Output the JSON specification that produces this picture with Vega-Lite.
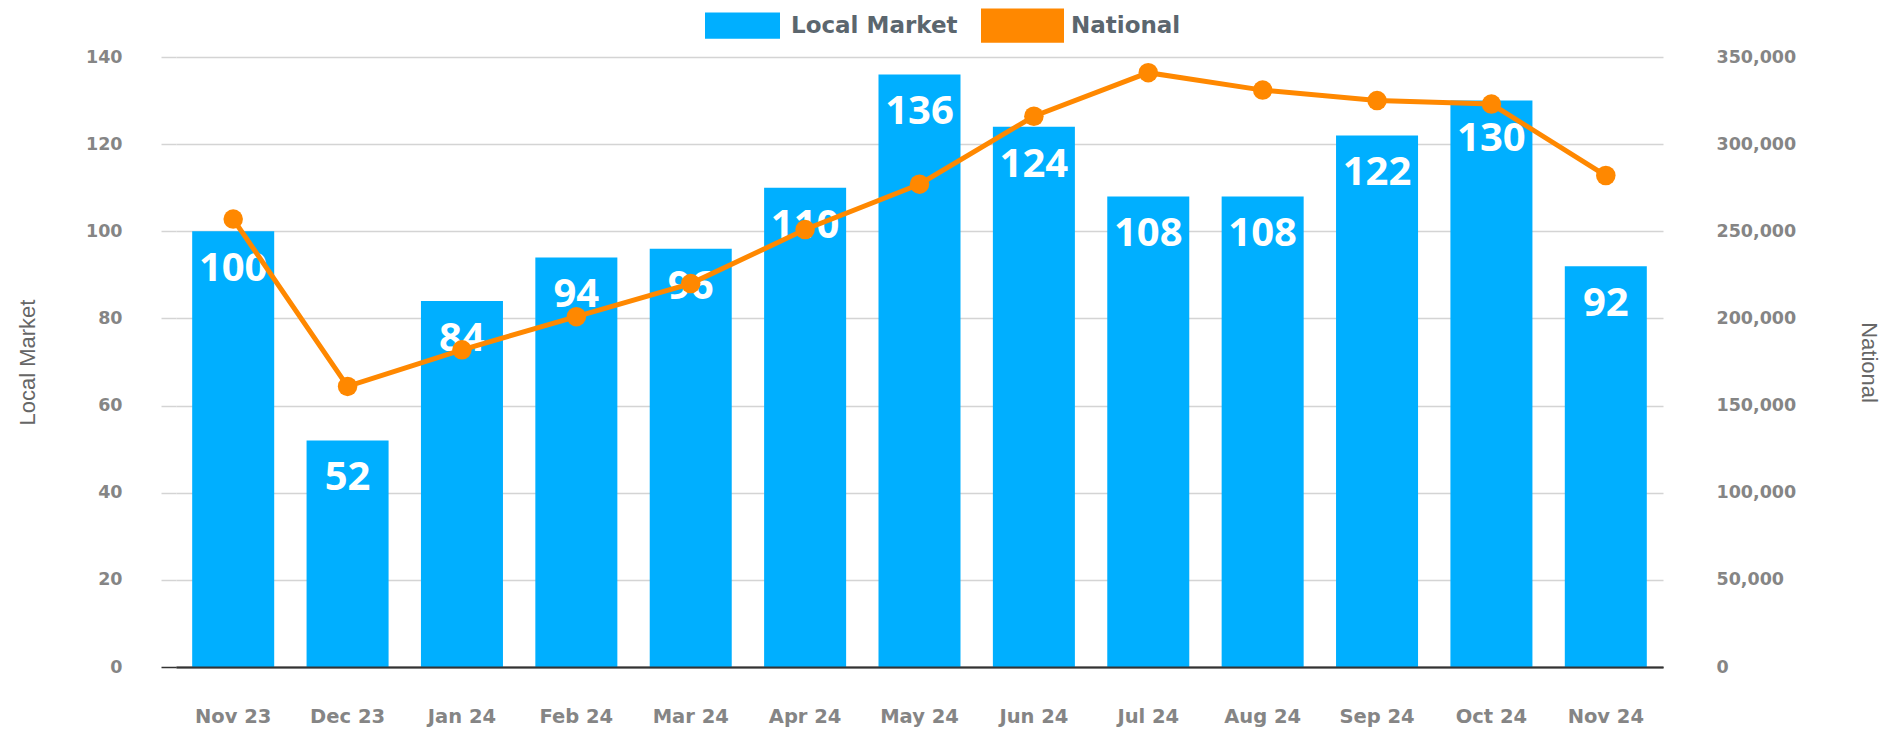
{
  "$schema": "https://vega.github.io/schema/vega-lite/v6.json",
  "width": 1487,
  "height": 610,
  "autosize": {"type": "none"},
  "padding": {"left": 176, "top": 57, "right": 227, "bottom": 63},
  "background": "white",
  "config": {"view": {"stroke": null}, "font": "DejaVu Sans"},
  "data": {
    "values": [
      {"month": "Nov 23", "local": 100, "national": 257000},
      {"month": "Dec 23", "local": 52, "national": 161000},
      {"month": "Jan 24", "local": 84, "national": 182000},
      {"month": "Feb 24", "local": 94, "national": 201000},
      {"month": "Mar 24", "local": 96, "national": 220000},
      {"month": "Apr 24", "local": 110, "national": 251000},
      {"month": "May 24", "local": 136, "national": 277000},
      {"month": "Jun 24", "local": 124, "national": 316000},
      {"month": "Jul 24", "local": 108, "national": 341000},
      {"month": "Aug 24", "local": 108, "national": 331000},
      {"month": "Sep 24", "local": 122, "national": 325000},
      {"month": "Oct 24", "local": 130, "national": 323000},
      {"month": "Nov 24", "local": 92, "national": 282000}
    ]
  },
  "encoding": {
    "x": {
      "field": "month",
      "type": "nominal",
      "sort": null,
      "scale": {"paddingInner": 0.283, "paddingOuter": 0.1415},
      "axis": {
        "title": null,
        "labelAngle": 0,
        "labelFont": "DejaVu Sans",
        "labelFontWeight": "bold",
        "labelFontSize": 19.5,
        "labelColor": "#858585",
        "ticks": false,
        "tickSize": 0,
        "labelPadding": 40,
        "domainColor": "#333333",
        "domainWidth": 2,
        "grid": false,
        "zindex": 1
      }
    }
  },
  "layer": [
    {
      "layer": [
        {
          "mark": {"type": "bar"},
          "encoding": {
            "y": {
              "field": "local",
              "type": "quantitative",
              "scale": {"domain": [0, 140], "nice": false},
              "axis": {
                "title": "Local Market",
                "titleFont": "Liberation Sans",
                "titleFontWeight": "normal",
                "titleFontSize": 22,
                "titleColor": "#666666",
                "titlePadding": 46,
                "values": [0, 20, 40, 60, 80, 100, 120, 140],
                "labelFont": "DejaVu Sans",
                "labelFontWeight": "bold",
                "labelFontSize": 17.5,
                "labelColor": "#858585",
                "labelPadding": 39,
                "tickSize": 15,
                "tickWidth": 1.5,
                "tickColor": {"condition": {"test": "datum.value === 0", "value": "#333333"}, "value": "#d4d4d4"},
                "grid": true,
                "gridWidth": 1.5,
                "gridColor": {"condition": {"test": "datum.value === 0", "value": "#333333"}, "value": "#d4d4d4"},
                "domain": false
              }
            },
            "color": {
              "datum": "Local Market",
              "scale": {"domain": ["Local Market", "National"], "range": ["#00afff", "#ff8800"]},
              "legend": {
                "orient": "none",
                "legendX": 525,
                "legendY": -73,
                "direction": "horizontal",
                "title": null,
                "symbolType": "M-1,-0.35H1V0.35H-1Z",
                "symbolSize": 5625,
                "labelFont": "DejaVu Sans",
                "labelFontWeight": "bold",
                "labelFontSize": 23,
                "labelColor": "#5b666e",
                "labelOffset": 7,
                "labelLimit": 400,
                "labelBaseline": "middle",
                "columnPadding": 11,
                "encode": {
                  "symbols": {
                    "update": {
                      "fill": {"signal": "datum.value === 'National' ? '#ff8800' : '#00afff'"},
                      "stroke": {"signal": "datum.value === 'National' ? '#ff8800' : '#00afff'"},
                      "strokeWidth": {"value": 8},
                      "strokeOpacity": {"signal": "datum.value === 'National' ? 1 : 0.001"},
                      "opacity": {"value": 1},
                      "fillOpacity": {"value": 1}
                    }
                  }
                }
              }
            }
          }
        },
        {
          "mark": {
            "type": "text",
            "color": "white",
            "font": "Open Sans",
            "fontWeight": "bold",
            "fontSize": 40,
            "align": "center",
            "baseline": "alphabetic",
            "dy": 50
          },
          "encoding": {
            "y": {"field": "local", "type": "quantitative"},
            "text": {"field": "local", "type": "quantitative"}
          }
        }
      ]
    },
    {
      "layer": [
        {
          "mark": {
            "type": "line",
            "strokeWidth": 5,
            "point": {"filled": true, "size": 380, "opacity": 1}
          },
          "encoding": {
            "y": {
              "field": "national",
              "type": "quantitative",
              "scale": {"domain": [0, 350000], "nice": false},
              "axis": {
                "orient": "right",
                "title": "National",
                "titleFont": "Liberation Sans",
                "titleFontWeight": "normal",
                "titleFontSize": 22,
                "titleColor": "#666666",
                "titlePadding": 61,
                "values": [0, 50000, 100000, 150000, 200000, 250000, 300000, 350000],
                "format": ",d",
                "labelFont": "DejaVu Sans",
                "labelFontWeight": "bold",
                "labelFontSize": 17.5,
                "labelColor": "#858585",
                "labelPadding": 53,
                "ticks": false,
                "tickSize": 0,
                "grid": false,
                "domain": false
              }
            },
            "color": {"datum": "National"}
          }
        }
      ]
    }
  ],
  "resolve": {"scale": {"y": "independent"}}
}
